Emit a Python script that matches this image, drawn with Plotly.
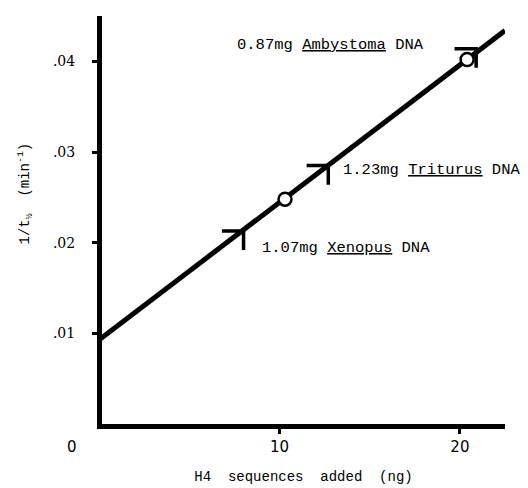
import plotly.graph_objects as go

# fitted line
line_x = [0, 22.5]
line_y = [0.0093, 0.0434]
# open circle points
circle_x = [10.3, 20.4]
circle_y = [0.0248, 0.0402]
# arrow marks (DNA additions)
arrow_x = [8.0, 12.7, 20.9]
arrow_y = [0.0213, 0.0285, 0.0414]
labels = ["1.07mg <u>Xenopus</u> DNA", "1.23mg <u>Triturus</u> DNA", "0.87mg <u>Ambystoma</u> DNA"]
label_x = [8.9, 13.4, 7.5]
label_y = [0.0194, 0.0280, 0.0418]
xticks = [10, 20]
yticks = [0.01, 0.02, 0.03, 0.04]
yticklabels = [".01", ".02", ".03", ".04"]

# arrowhead arm lengths (style, in axis units)
ARM_X = 1.2
ARM_Y = 0.0021

fig = go.Figure()
fig.add_trace(go.Scatter(x=line_x, y=line_y, mode="lines",
                         line=dict(color="black", width=5)))

ax, ay = [], []
for x, y in zip(arrow_x, arrow_y):
    ax += [x - ARM_X, x, x, None]
    ay += [y, y, y - ARM_Y, None]
fig.add_trace(go.Scatter(x=ax, y=ay, mode="lines",
                         line=dict(color="black", width=3.5)))
fig.add_trace(go.Scatter(x=circle_x, y=circle_y, mode="markers",
                         marker=dict(symbol="circle", size=13, color="white",
                                     line=dict(color="black", width=2.5))))

for t, x, y in zip(labels, label_x, label_y):
    fig.add_annotation(x=x, y=y, text=t, showarrow=False, xanchor="left",
                       font=dict(family="Liberation Mono", size=15.5, color="black"))

fig.add_annotation(xref="paper", yref="paper", x=-0.074, y=-0.056, text="0",
                   xanchor="center", yanchor="middle",
                   showarrow=False, font=dict(family="DejaVu Sans", size=15, color="black"))
fig.add_annotation(xref="paper", yref="paper", x=-0.19, y=0.566, textangle=-90,
                   xanchor="center", yanchor="middle",
                   text="1/t<sub>½</sub>  (min<sup>-1</sup>)", showarrow=False,
                   font=dict(family="Liberation Mono", size=14, color="black"))

fig.update_layout(
    width=520, height=480,
    margin=dict(l=94, r=23, t=8, b=64),
    plot_bgcolor="white", paper_bgcolor="white",
    showlegend=False,
    xaxis=dict(range=[0.15, 22.5], tickvals=xticks, ticktext=["10", "20"],
               showline=True, linecolor="black", linewidth=5,
               ticks="outside", ticklen=5, tickwidth=3, tickcolor="black",
               showgrid=False, zeroline=False, automargin=False,
               tickfont=dict(family="DejaVu Sans", size=15, color="black"),
               title=dict(text="H4  sequences  added  (ng)", standoff=18,
                          font=dict(family="Liberation Mono", size=14, color="black"))),
    yaxis=dict(range=[0, 0.045], tickvals=yticks, ticktext=yticklabels,
               showline=True, linecolor="black", linewidth=5,
               ticks="outside", ticklen=5, tickwidth=3, tickcolor="black",
               showgrid=False, zeroline=False, ticklabelstandoff=14, automargin=False,
               tickfont=dict(family="DejaVu Serif", size=14, color="black")),
)

fig.write_html("out.html")
